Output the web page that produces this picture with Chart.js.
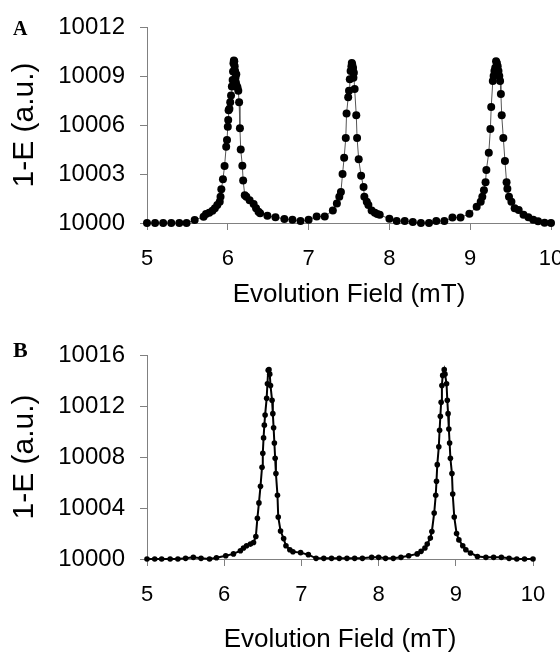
<!DOCTYPE html>
<html>
<head>
<meta charset="utf-8">
<script src="https://cdn.jsdelivr.net/npm/chart.js@4"></script>
<style>
body { margin: 0; background: #fff; }
#wrap { position: relative; width: 560px; height: 655px; overflow: hidden; }
#chartA { position: absolute; left: 0; top: 0; }
#chartB { position: absolute; left: 0; top: 320px; }
.panel { position: absolute; left: 13px; line-height: 1; font-family: "Liberation Serif", serif; font-weight: bold; }
</style>
</head>
<body>
<div id="wrap">
  <canvas id="chartA" width="560" height="320"></canvas>
  <canvas id="chartB" width="560" height="335"></canvas>
  <div class="panel" style="top:18px; font-size:20px;">A</div>
  <div class="panel" style="top:339px; font-size:22px;">B</div>
</div>
<script>
// Panel A: field (mT) and 1-E values
const fieldA = [5.0, 5.1, 5.2, 5.3, 5.4, 5.49, 5.59, 5.70, 5.73, 5.77, 5.81, 5.84, 5.87, 5.90, 5.91, 5.92, 5.94, 5.96, 5.98, 5.99,
  6.0, 6.005, 6.01, 6.02, 6.03, 6.04, 6.05, 6.06, 6.065, 6.07, 6.075, 6.08, 6.085, 6.09, 6.095, 6.10, 6.105, 6.11, 6.12, 6.13,
  6.14, 6.15, 6.16, 6.18, 6.19, 6.21, 6.23, 6.27, 6.32, 6.35, 6.38, 6.40, 6.49, 6.59, 6.70, 6.80, 6.90, 7.0, 7.1, 7.2,
  7.3, 7.35, 7.38, 7.40, 7.42, 7.44, 7.46, 7.47, 7.49, 7.50, 7.51, 7.52, 7.53, 7.535, 7.54, 7.545, 7.55, 7.555, 7.56, 7.57,
  7.59, 7.60, 7.62, 7.65, 7.68, 7.69, 7.72, 7.74, 7.78, 7.82, 7.85, 7.88, 8.0, 8.09, 8.19, 8.29, 8.39, 8.49, 8.58, 8.68,
  8.78, 8.88, 8.99, 9.08, 9.13, 9.15, 9.17, 9.19, 9.20, 9.23, 9.25, 9.26, 9.28, 9.29, 9.30, 9.31, 9.32, 9.33, 9.34, 9.35,
  9.36, 9.37, 9.38, 9.39, 9.41, 9.43, 9.45, 9.46, 9.48, 9.51, 9.55, 9.60, 9.66, 9.72, 9.78, 9.84, 9.92, 10.0];
const signalA = [10000.0, 10000.0, 10000.0, 10000.0, 10000.0, 10000.0, 10000.18, 10000.39, 10000.55, 10000.63, 10000.75, 10000.9, 10001.1, 10001.3, 10001.6, 10002.06, 10002.68, 10003.49, 10004.67, 10005.08,
  10005.9, 10006.3, 10006.9, 10007.0, 10007.4, 10007.8, 10008.35, 10008.76, 10009.27, 10009.78, 10009.95, 10009.9, 10009.6, 10009.3, 10008.9, 10008.6, 10009.1, 10008.4, 10008.3, 10008.1,
  10007.4, 10005.8, 10004.5, 10003.5, 10002.6, 10001.7, 10001.6, 10001.4, 10001.16, 10000.9, 10000.69, 10000.59, 10000.45, 10000.35, 10000.25, 10000.2, 10000.12, 10000.2, 10000.4, 10000.4,
  10000.77, 10001.2, 10001.6, 10001.9, 10003.0, 10004.0, 10005.2, 10006.7, 10007.7, 10008.1, 10008.8, 10009.3, 10009.6, 10009.8, 10009.7, 10009.4, 10009.5, 10008.9, 10009.2, 10008.2,
  10006.6, 10005.2, 10003.9, 10002.9, 10002.2, 10001.6, 10001.3, 10001.1, 10000.77, 10000.63, 10000.55, 10000.5, 10000.26, 10000.12, 10000.12, 10000.06, 10000.0, 10000.0, 10000.12, 10000.12,
  10000.33, 10000.33, 10000.57, 10001.0, 10001.3, 10001.6, 10002.0, 10002.5, 10003.25, 10004.3, 10005.75, 10007.1, 10008.7, 10009.0, 10009.3, 10009.5, 10009.9, 10009.8, 10009.6, 10009.3,
  10009.0, 10008.7, 10007.9, 10006.6, 10005.2, 10003.8, 10002.5, 10002.1, 10001.6, 10001.3, 10000.9, 10000.8, 10000.5, 10000.35, 10000.2, 10000.1, 10000.02, 10000.0];

// Panel B
const fieldB = [5.0, 5.1, 5.19, 5.3, 5.4, 5.5, 5.6, 5.7, 5.81, 5.9, 6.02, 6.12, 6.21, 6.25, 6.29, 6.34, 6.38, 6.41, 6.43, 6.45,
  6.47, 6.49, 6.50, 6.51, 6.52, 6.53, 6.55, 6.56, 6.57, 6.58, 6.59, 6.60, 6.62, 6.63, 6.64, 6.65, 6.66, 6.67, 6.69, 6.70,
  6.73, 6.77, 6.80, 6.85, 6.89, 6.99, 7.09, 7.19, 7.29, 7.39, 7.49, 7.59, 7.69, 7.79, 7.91, 8.0, 8.09, 8.19, 8.29, 8.39,
  8.50, 8.55, 8.60, 8.63, 8.67, 8.69, 8.72, 8.74, 8.75, 8.76, 8.78, 8.79, 8.80, 8.81, 8.82, 8.83, 8.85, 8.86, 8.88, 8.89,
  8.90, 8.91, 8.92, 8.93, 8.95, 8.96, 8.98, 9.01, 9.04, 9.09, 9.13, 9.19, 9.28, 9.39, 9.49, 9.59, 9.69, 9.79, 9.89, 10.0];
const signalB = [10000.0, 10000.0, 10000.0, 10000.0, 10000.0, 10000.05, 10000.13, 10000.05, 10000.0, 10000.1, 10000.26, 10000.4, 10000.65, 10000.86, 10001.04, 10001.17, 10001.3, 10001.77, 10003.2, 10004.4,
  10005.7, 10007.2, 10008.3, 10009.5, 10010.5, 10011.3, 10012.6, 10013.75, 10014.8, 10014.85, 10014.5, 10013.6, 10012.45, 10011.4, 10010.3, 10009.1, 10007.9, 10006.7, 10005.0, 10003.3,
  10002.2, 10001.6, 10001.04, 10000.73, 10000.57, 10000.5, 10000.34, 10000.05, 10000.05, 10000.05, 10000.05, 10000.05, 10000.05, 10000.05, 10000.13, 10000.13, 10000.05, 10000.05, 10000.13, 10000.26,
  10000.4, 10000.6, 10000.86, 10001.17, 10001.64, 10002.16, 10003.6, 10005.0, 10006.1, 10007.4, 10008.8, 10010.1, 10011.2, 10012.3, 10013.6, 10014.4, 10014.85, 10014.5, 10013.75, 10012.45,
  10011.4, 10010.2, 10009.1, 10007.9, 10006.7, 10005.1, 10003.3, 10002.0, 10001.5, 10001.04, 10000.73, 10000.47, 10000.2, 10000.13, 10000.13, 10000.13, 10000.05, 10000.0, 10000.0, 10000.0];

const xTicks = [5, 6, 7, 8, 9, 10];
const yTicksA = [10000, 10003, 10006, 10009, 10012];
const yTicksB = [10000, 10004, 10008, 10012, 10016];

const axisGray = '#808080';
const sans = 'Liberation Sans, Arial, sans-serif';

function makeChart(canvasId, xs, ys, yTicks, opts) {
    const points = xs.map((x, i) => ({ x: x, y: ys[i] }));
    return new Chart(document.getElementById(canvasId), {
        type: 'scatter',
        data: {
            datasets: [{
                data: points,
                showLine: true,
                borderColor: opts.lineColor,
                borderWidth: opts.lineWidth,
                pointRadius: opts.radius,
                pointBackgroundColor: '#000',
                pointBorderWidth: 0,
                pointHoverRadius: opts.radius,
                clip: false
            }]
        },
        options: {
            responsive: false,
            animation: false,
            layout: { padding: opts.padding },
            plugins: { legend: { display: false }, tooltip: { enabled: false } },
            scales: {
                x: {
                    type: 'linear',
                    min: 5,
                    max: 10,
                    afterBuildTicks: s => { s.ticks = xTicks.map(v => ({ value: v })); },
                    ticks: {
                        color: '#000',
                        font: { family: sans, size: 22 },
                        padding: 16,
                        maxRotation: 0,
                        callback: v => String(v)
                    },
                    grid: { display: true, drawOnChartArea: false, drawTicks: true, tickLength: 7, color: axisGray },
                    border: { display: true, color: axisGray, width: 1 },
                    title: {
                        display: true,
                        text: 'Evolution Field (mT)',
                        color: '#000',
                        font: { family: sans, size: 26 },
                        padding: { top: 0, bottom: opts.titlePad }
                    },
                    afterFit: s => { s.height = opts.xHeight; s.paddingLeft = 0; s.paddingRight = 0; }
                },
                y: {
                    type: 'linear',
                    min: yTicks[0],
                    max: yTicks[yTicks.length - 1],
                    afterBuildTicks: s => { s.ticks = yTicks.map(v => ({ value: v })); },
                    ticks: {
                        color: '#000',
                        font: { family: sans, size: 24 },
                        padding: 15,
                        callback: v => String(v)
                    },
                    grid: { display: true, drawOnChartArea: false, drawTicks: true, tickLength: 7, color: axisGray },
                    border: { display: true, color: axisGray, width: 1 },
                    title: {
                        display: true,
                        text: '1-E (a.u.)',
                        color: '#000',
                        font: { family: sans, size: 30 },
                        padding: { top: 7, bottom: 0 }
                    },
                    afterFit: s => { s.width = 147; s.paddingTop = 0; s.paddingBottom = 0; }
                }
            }
        }
    });
}

makeChart('chartA', fieldA, signalA, yTicksA, {
    lineColor: '#555', lineWidth: 1, radius: 4,
    padding: { left: 0, right: 9, top: 27, bottom: 0 },
    xHeight: 97, titlePad: 10
});

makeChart('chartB', fieldB, signalB, yTicksB, {
    lineColor: '#000', lineWidth: 2, radius: 2.8,
    padding: { left: 0, right: 27, top: 35, bottom: 0 },
    xHeight: 96, titlePad: 0
});
</script>
</body>
</html>
